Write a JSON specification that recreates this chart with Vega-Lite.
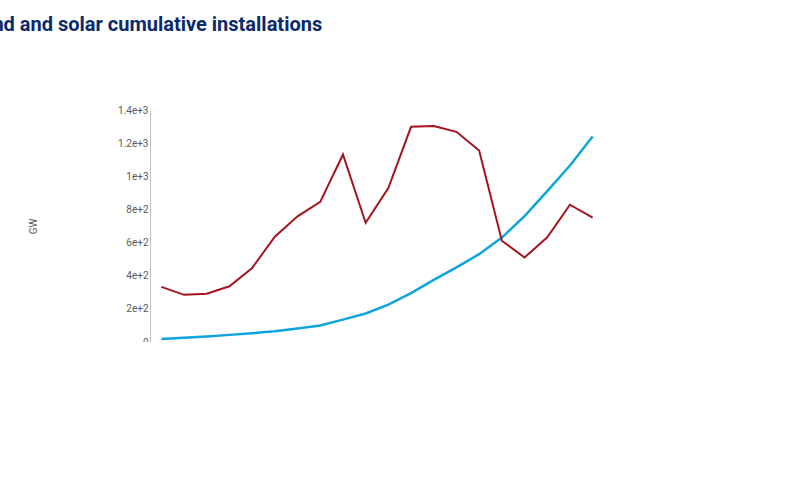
{
  "$schema": "https://vega.github.io/schema/vega-lite/v6.json",
  "width": 454,
  "height": 232,
  "autosize": {"type": "none"},
  "padding": {"left": 150, "top": 110, "right": 0, "bottom": 0},
  "background": "white",
  "title": {
    "text": "Global wind and solar cumulative installations",
    "anchor": "start",
    "dx": -118,
    "offset": 70,
    "fontSize": 20,
    "fontWeight": "bold",
    "color": "#0b2a6b",
    "font": "Roboto"
  },
  "data": {
    "values": [
      {"year": "2000", "wind": 18, "brent": 28.5},
      {"year": "2001", "wind": 25, "brent": 24.4},
      {"year": "2002", "wind": 33, "brent": 25.0},
      {"year": "2003", "wind": 43, "brent": 28.8},
      {"year": "2004", "wind": 53, "brent": 38.3},
      {"year": "2005", "wind": 65, "brent": 54.5},
      {"year": "2006", "wind": 82, "brent": 65.0},
      {"year": "2007", "wind": 100, "brent": 72.5},
      {"year": "2008", "wind": 135, "brent": 97.0},
      {"year": "2009", "wind": 172, "brent": 61.7},
      {"year": "2010", "wind": 225, "brent": 79.6},
      {"year": "2011", "wind": 295, "brent": 111.3},
      {"year": "2012", "wind": 375, "brent": 111.7},
      {"year": "2013", "wind": 450, "brent": 108.7},
      {"year": "2014", "wind": 530, "brent": 99.0},
      {"year": "2015", "wind": 630, "brent": 52.4},
      {"year": "2016", "wind": 760, "brent": 43.7},
      {"year": "2017", "wind": 910, "brent": 54.2},
      {"year": "2018", "wind": 1065, "brent": 71.0},
      {"year": "2019", "wind": 1240, "brent": 64.3}
    ]
  },
  "encoding": {
    "x": {
      "field": "year",
      "type": "ordinal",
      "scale": {"type": "point", "padding": 0.5},
      "axis": {
        "labelAngle": 270,
        "ticks": false,
        "domainColor": "#bfbfbf",
        "title": "Source: Wood Mackenzie",
        "titleAnchor": "start",
        "titleX": -118,
        "titleY": 125,
        "titleFont": "Roboto",
        "titleFontWeight": "normal",
        "titleFontSize": 12,
        "titleColor": "#1f3f8f",
        "titleAlign": "left"
      }
    }
  },
  "layer": [
    {
      "mark": {"type": "line", "strokeWidth": 2.5},
      "encoding": {
        "y": {
          "field": "wind",
          "type": "quantitative",
          "scale": {"domain": [0, 1400]},
          "axis": {
            "title": "GW",
            "titleAngle": 270,
            "titleX": -112,
            "titleY": 116,
            "titleFontWeight": "normal",
            "tickCount": 7,
            "format": ",",
            "grid": false,
            "ticks": false,
            "domainColor": "#bfbfbf"
          }
        },
        "color": {"datum": "Wind and solar PV cumulative installations", "type": "nominal"}
      }
    },
    {
      "mark": {"type": "line", "strokeWidth": 2},
      "encoding": {
        "y": {
          "field": "brent",
          "type": "quantitative",
          "scale": {"domain": [0, 120]},
          "axis": {
            "orient": "right",
            "title": "US$/bbl",
            "titleAngle": 270,
            "titleX": 20,
            "titleY": 116,
            "titleFontWeight": "normal",
            "tickCount": 6,
            "grid": false,
            "ticks": false,
            "domainColor": "#bfbfbf"
          }
        },
        "color": {"datum": "Brent crude (US$/bbl)", "type": "nominal"}
      }
    }
  ],
  "resolve": {"scale": {"y": "independent"}},
  "config": {
    "font": "Roboto",
    "view": {"stroke": null},
    "axis": {"labelFontSize": 10, "labelColor": "#595959", "titleColor": "#595959", "titleFontSize": 10},
    "legend": {
      "orient": "none",
      "legendX": 25,
      "legendY": 280,
      "direction": "horizontal",
      "title": null,
      "symbolType": "stroke",
      "symbolSize": 400,
      "symbolStrokeWidth": 2,
      "labelFontSize": 10,
      "labelColor": "#404040",
      "columnPadding": 95
    },
    "range": {"category": ["#0ea5dc", "#a3141c"]}
  }
}
